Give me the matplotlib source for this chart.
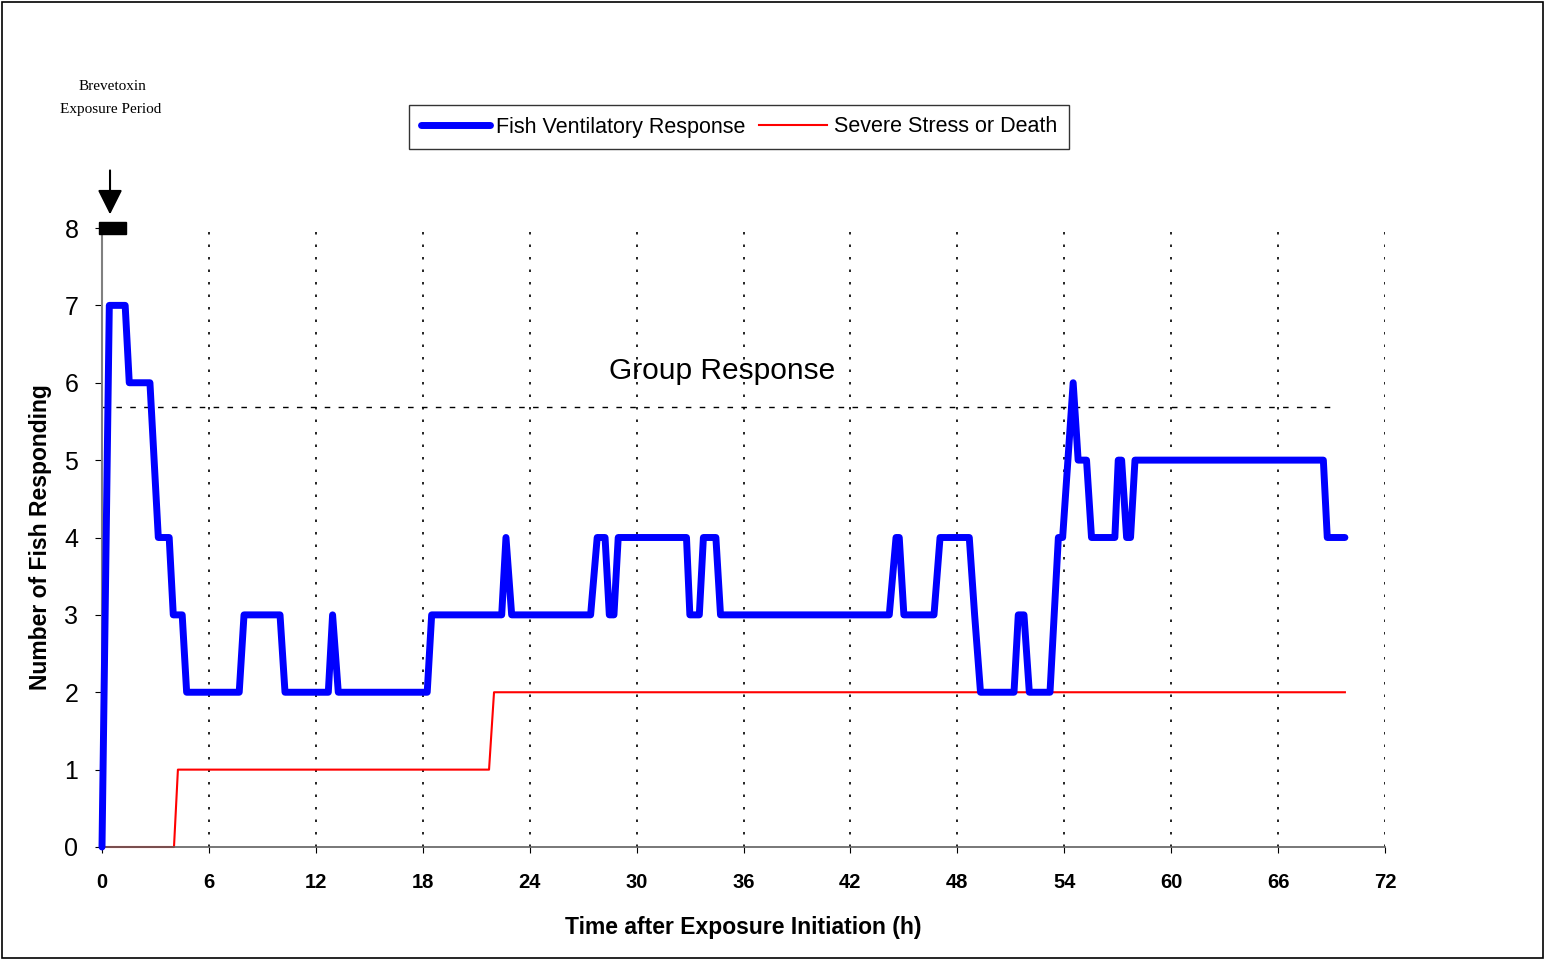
import numpy as np
import matplotlib
matplotlib.use('Agg')
from matplotlib import pyplot as plt
from matplotlib.patches import Rectangle

plt.rcParams['font.family'] = ['Liberation Sans', 'DejaVu Sans']

# Fish ventilatory response (time in h, number of fish)
vent_t = [0.0, 0.41, 1.30, 1.53, 2.69, 3.16, 3.77, 4.00, 4.50, 4.75, 7.70, 7.97,
          9.99, 10.27, 12.70, 12.94, 13.26, 18.25, 18.50, 22.43, 22.67, 22.99,
          27.42, 27.79, 28.23, 28.47, 28.73, 28.97, 32.80, 32.99, 33.52, 33.75,
          34.45, 34.71, 44.18, 44.56, 44.74, 45.00, 46.69, 47.03, 48.67, 48.97,
          49.30, 51.18, 51.42, 51.74, 52.04, 53.20, 53.67, 53.91, 54.50, 54.78,
          55.25, 55.53, 56.84, 57.03, 57.22, 57.50, 57.72, 57.97, 68.54, 68.76,
          69.75]
vent_n = [0, 7, 7, 6, 6, 4, 4, 3, 3, 2, 2, 3,
          3, 2, 2, 3, 2, 2, 3, 3, 4, 3,
          3, 4, 4, 3, 3, 4, 4, 3, 3, 4,
          4, 3, 3, 4, 4, 3, 3, 4, 4, 3,
          2, 2, 3, 3, 2, 2, 4, 4, 6, 5,
          5, 4, 4, 5, 5, 4, 4, 5, 5, 4,
          4]

# Severe stress or death
stress_t = [0.0, 4.04, 4.26, 21.72, 22.0, 69.75]
stress_n = [0, 0, 1, 1, 2, 2]

group_level = 5.69
group_span = [0.0, 69.0]
x_ticks = list(range(0, 73, 6))
y_ticks = list(range(0, 9))

fig = plt.figure(figsize=(15.45, 9.6), dpi=100)
ax = fig.add_axes([102 / 1545, 113 / 960, 1283 / 1545, 619 / 960])

# dotted vertical grid
for xt in x_ticks[1:]:
    ax.plot([xt, xt], [0, 8], color='black', lw=1.2, ls=(0, (1.5, 6)), zorder=1)
# group response threshold
ax.plot(group_span, [group_level, group_level], color='black', lw=1.0,
        ls=(0, (4, 6)), zorder=1)

ax.plot(vent_t, vent_n, color='#0000ff', lw=5, solid_joinstyle='round',
        solid_capstyle='round', label='Fish Ventilatory Response', zorder=3,
        clip_on=False)
ax.plot(stress_t, stress_n, color='#ff0000', lw=1.5,
        label='Severe Stress or Death', zorder=2, clip_on=False)

ax.set_xlim(0, 72)
ax.set_ylim(0, 8)
ax.set_xticks(x_ticks)
ax.set_yticks(y_ticks)
ax.tick_params(axis='y', labelsize=18, length=5, color='black', pad=12)
ax.tick_params(axis='x', labelsize=14.5, length=4, color='black', pad=15)
for lab in ax.get_xticklabels():
    lab.set_fontweight('bold')

for s in ['top', 'right']:
    ax.spines[s].set_visible(False)
ax.spines['left'].set_color('#808080')
ax.spines['left'].set_linewidth(1.5)
ax.spines['bottom'].set_color('#606060')
ax.spines['bottom'].set_linewidth(1.2)

ax.set_xlabel('Time after Exposure Initiation (h)', fontsize=16.5,
              fontweight='bold', labelpad=17)
ax.set_ylabel('Number of Fish Responding', fontsize=16.5, fontweight='bold',
              labelpad=9)

ax.text(34.8, 6.15, 'Group Response', fontsize=21.5, ha='center', va='center')

# exposure period bar and arrow
ax.add_patch(Rectangle((-0.17, 7.92), 1.52, 0.16, color='black', clip_on=False,
                       zorder=4))
ax.annotate('', xy=(0.45, 8.14), xytext=(0.45, 8.78),
            arrowprops=dict(arrowstyle='-|>', color='black', lw=1.5,
                            mutation_scale=38), annotation_clip=False)
fig.text(112 / 1545, 1 - 87 / 960, 'Brevetoxin', fontsize=11,
         family='Liberation Serif', ha='center', va='center')
fig.text(111 / 1545, 1 - 109 / 960, 'Exposure Period', fontsize=11,
         family='Liberation Serif', ha='center', va='center')

leg = ax.legend(loc='center', bbox_to_anchor=(739 / 1545, 1 - 127 / 960),
                bbox_transform=fig.transFigure, ncol=2, fontsize=15.5,
                frameon=True, fancybox=False, edgecolor='black',
                handlelength=3.2, handletextpad=0.3, columnspacing=0.6,
                borderpad=0.55)
leg.get_frame().set_linewidth(1.0)

# outer frame
fig.patches.append(Rectangle((2 / 1545, 2 / 960), 1541 / 1545, 956 / 960,
                             transform=fig.transFigure, fill=False,
                             edgecolor='black', lw=1.2))

fig.savefig('out.png', dpi=100)
